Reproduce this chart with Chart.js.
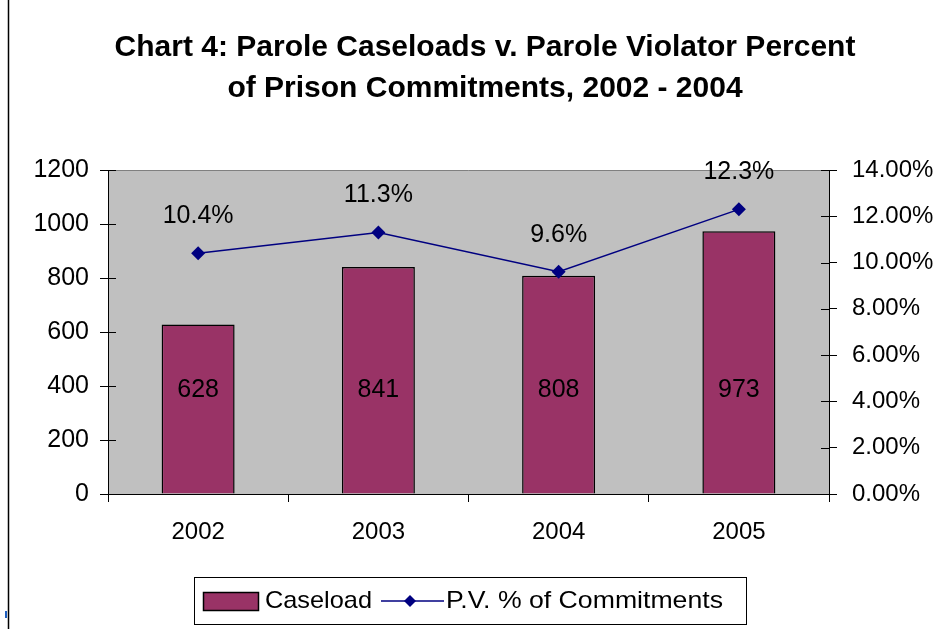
<!DOCTYPE html>
<html>
<head>
<meta charset="utf-8">
<script src="https://cdn.jsdelivr.net/npm/chart.js@4"></script>
<style>
html,body{margin:0;padding:0;background:#fff;}
canvas{display:block;}
</style>
</head>
<body>
<canvas id="c" width="952" height="629"></canvas>
<script>
const categories = ['2002', '2003', '2004', '2005'];
const caseload = [628, 841, 808, 973];
const pvPercent = [10.4, 11.3, 9.6, 12.3];
const titleLines = ['Chart 4: Parole Caseloads v. Parole Violator Percent', 'of Prison Commitments, 2002 - 2004'];
const seriesNames = ['Caseload', 'P.V. % of Commitments'];

const FONT = "'Liberation Sans', Arial, sans-serif";
const BAR_COLOR = '#993366';
const LINE_COLOR = '#000080';

function stretchText(ctx, text, x, y, targetW) {
  const w = ctx.measureText(text).width;
  ctx.save();
  ctx.translate(x, y);
  ctx.scale(targetW / w, 1);
  ctx.fillText(text, 0, 0);
  ctx.restore();
}

const decor = {
  id: 'decor',
  beforeDraw(chart) {
    const ctx = chart.ctx, a = chart.chartArea;
    ctx.save();
    ctx.fillStyle = '#fff';
    ctx.fillRect(0, 0, chart.width, chart.height);
    ctx.fillStyle = '#C0C0C0';
    ctx.fillRect(a.left, a.top, a.right - a.left, a.bottom - a.top);
    ctx.strokeStyle = '#808080';
    ctx.lineWidth = 1;
    ctx.beginPath();
    ctx.moveTo(a.left, a.top + 0.5);
    ctx.lineTo(a.right, a.top + 0.5);
    ctx.stroke();
    ctx.strokeStyle = '#000';
    ctx.lineWidth = 1.5;
    ctx.beginPath();
    ctx.moveTo(8.5, 0);
    ctx.lineTo(8.5, chart.height);
    ctx.stroke();
    ctx.fillStyle = '#1f5fbf';
    ctx.fillRect(5, 611, 2, 7);
    ctx.restore();
  },
  afterDraw(chart) {
    const ctx = chart.ctx, a = chart.chartArea;
    ctx.save();
    ctx.strokeStyle = '#000';
    ctx.lineWidth = 1;
    ['y', 'y1'].forEach(id => {
      const s = chart.scales[id];
      s.ticks.forEach((t, i) => {
        const py = Math.round(s.getPixelForTick(i)) + 0.5;
        ctx.beginPath();
        if (id === 'y') { ctx.moveTo(a.left, py); ctx.lineTo(a.left + 8, py); }
        else { ctx.moveTo(a.right, py); ctx.lineTo(a.right - 8, py); }
        ctx.stroke();
      });
    });
    // title
    ctx.fillStyle = '#000';
    ctx.textAlign = 'center';
    ctx.textBaseline = 'middle';
    ctx.font = 'bold 30px ' + FONT;
    ctx.fillText(titleLines[0], 485, 48);
    ctx.fillText(titleLines[1], 485, 89);
    // data labels
    ctx.font = '25px ' + FONT;
    const xs = chart.scales.x, ys = chart.scales.y, y1 = chart.scales.y1;
    caseload.forEach((v, i) => {
      ctx.fillText(String(v), xs.getPixelForValue(i), ys.getPixelForValue(385));
    });
    pvPercent.forEach((v, i) => {
      ctx.fillText(v.toFixed(1) + '%', xs.getPixelForValue(i), y1.getPixelForValue(v) - 37);
    });
    // legend
    ctx.lineWidth = 1;
    ctx.strokeStyle = '#000';
    ctx.strokeRect(194.5, 577.5, 552, 47);
    const ly = 601;
    ctx.fillStyle = BAR_COLOR;
    ctx.fillRect(203, 592, 55, 18);
    ctx.lineWidth = 1.5;
    ctx.strokeRect(203.5, 592.5, 55, 18);
    ctx.fillStyle = '#000';
    ctx.textAlign = 'left';
    ctx.font = '24px ' + FONT;
    stretchText(ctx, seriesNames[0], 265, ly, 107);
    ctx.strokeStyle = LINE_COLOR;
    ctx.lineWidth = 1.5;
    ctx.beginPath();
    ctx.moveTo(381, ly);
    ctx.lineTo(444, ly);
    ctx.stroke();
    ctx.fillStyle = LINE_COLOR;
    ctx.beginPath();
    ctx.moveTo(410, ly - 6); ctx.lineTo(416, ly); ctx.lineTo(410, ly + 6); ctx.lineTo(404, ly);
    ctx.closePath();
    ctx.fill();
    ctx.fillStyle = '#000';
    stretchText(ctx, seriesNames[1], 446, ly, 277);
    ctx.restore();
  }
};

new Chart(document.getElementById('c'), {
  type: 'bar',
  data: {
    labels: categories,
    datasets: [
      {
        type: 'line',
        label: seriesNames[1],
        data: pvPercent,
        yAxisID: 'y1',
        borderColor: LINE_COLOR,
        backgroundColor: LINE_COLOR,
        borderWidth: 1.5,
        pointStyle: 'rectRot',
        pointRadius: 7,
        pointBorderWidth: 0,
        tension: 0,
        order: 0
      },
      {
        type: 'bar',
        label: seriesNames[0],
        data: caseload,
        yAxisID: 'y',
        backgroundColor: BAR_COLOR,
        borderColor: '#000',
        borderWidth: 1.5,
        categoryPercentage: 1,
        barPercentage: 0.405,
        order: 1
      }
    ]
  },
  options: {
    responsive: false,
    animation: false,
    devicePixelRatio: 1,
    layout: { padding: { top: 170, bottom: 75, left: 0, right: 0 } },
    plugins: { legend: { display: false }, title: { display: false }, tooltip: { enabled: false } },
    scales: {
      x: {
        offset: true,
        grid: { display: true, drawOnChartArea: false, drawTicks: true, tickLength: 8, color: '#000', offset: true },
        border: { display: true, color: '#000', width: 1 },
        ticks: { color: '#000', font: { family: FONT, size: 24 }, padding: 16, maxRotation: 0 },
        afterFit(s) { s.height = 60; }
      },
      y: {
        position: 'left',
        min: 0, max: 1200,
        ticks: { stepSize: 200, color: '#000', font: { family: FONT, size: 25 }, padding: 11,
          callback: v => String(v) },
        grid: { display: true, drawOnChartArea: false, drawTicks: true, tickLength: 8, color: '#000' },
        border: { display: true, color: '#000', width: 1 },
        afterFit(s) { s.width = 108; }
      },
      y1: {
        position: 'right',
        min: 0, max: 14,
        ticks: { stepSize: 2, color: '#000', font: { family: FONT, size: 24 }, padding: 15,
          callback: v => Number(v).toFixed(2) + '%' },
        grid: { display: true, drawOnChartArea: false, drawTicks: true, tickLength: 8, color: '#000' },
        border: { display: true, color: '#000', width: 1 },
        afterFit(s) { s.width = 123; }
      }
    }
  },
  plugins: [decor]
});
</script>
</body>
</html>
